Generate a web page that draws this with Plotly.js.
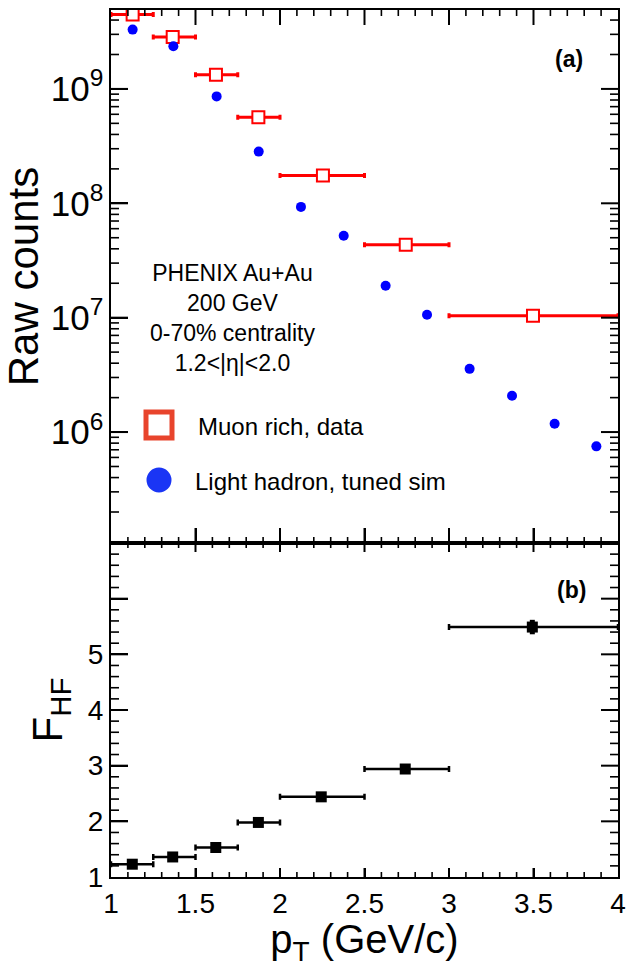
<!DOCTYPE html>
<html>
<head>
<meta charset="utf-8">
<script src="https://cdn.plot.ly/plotly-3.0.1.min.js"></script>
<style>html,body{margin:0;padding:0;background:#fff;}#chart{width:626px;height:967px;}</style>
</head>
<body>
<div id="chart"></div>
<script>
// ---- data ----
const ptSim = [1.128, 1.369, 1.625, 1.874, 2.124, 2.377, 2.625, 2.870, 3.122, 3.373, 3.625, 3.872];
const simCounts = [3.3e9, 2.36e9, 8.6e8, 2.83e8, 9.3e7, 5.2e7, 1.9e7, 1.06e7, 3.57e6, 2.08e6, 1.18e6, 7.5e5];

const ptData = [1.128, 1.365, 1.621, 1.872, 2.254, 2.744, 3.497];
const dataCounts = [4.47e9, 2.85e9, 1.33e9, 5.65e8, 1.75e8, 4.35e7, 1.04e7];
const binLo = [1.00, 1.25, 1.50, 1.75, 2.00, 2.50, 3.00];
const binHi = [1.25, 1.50, 1.75, 2.00, 2.50, 3.00, 4.00];

const ptFhf = [1.126, 1.365, 1.620, 1.872, 2.244, 2.741, 3.493];
const fhf = [1.23, 1.36, 1.53, 1.98, 2.44, 2.94, 5.49];
const fhfErr = [0, 0, 0, 0, 0, 0, 0.13];

const xTickVals = [1, 1.5, 2, 2.5, 3, 3.5, 4];
const xTickText = ['1', '1.5', '2', '2.5', '3', '3.5', '4'];
const fTickVals = [1, 2, 3, 4, 5, 6];
const fTickText = ['1', '2', '3', '4', '5', ' '];

const legendLabels = ['Muon rich, data', 'Light hadron, tuned sim'];
const infoLines = ['PHENIX Au+Au', '200 GeV', '0-70% centrality', '1.2<|η|<2.0'];

// ---- layout helpers ----
const W = 626, H = 967, ML = 111, MR = 8, MT = 10, MB = 90;
const PW = W - ML - MR, PH = H - MT - MB;
const px = x => (x - ML) / PW;
const py = y => (H - MB - y) / PH;
const split = py(543);
const FONT = 'Liberation Sans, Arial, Helvetica, sans-serif';
const XRANGE = [1, 4];
const Y2RANGE = [5.03, 9.69];
const FRANGE = [1, 7];

const errLo = ptData.map((v, i) => v - binLo[i]);
const errHi = ptData.map((v, i) => binHi[i] - v);
const errLoF = ptFhf.map((v, i) => v - binLo[i]);
const errHiF = ptFhf.map((v, i) => binHi[i] - v);

// ---- tick marks as paper-referenced line shapes (axis decoration) ----
const tickShapes = [];
const xPaper = v => (v - XRANGE[0]) / (XRANGE[1] - XRANGE[0]);
const fPaper = v => (v - FRANGE[0]) / (FRANGE[1] - FRANGE[0]) * split;
const cPaper = v => split + (Math.log10(v) - Y2RANGE[0]) / (Y2RANGE[1] - Y2RANGE[0]) * (1 - split);
function vTicks(vals, yBottom, yTop, len, w) {
  const d = len / PH;
  vals.forEach(v => {
    const x = xPaper(v);
    tickShapes.push({type: 'line', xref: 'paper', yref: 'paper', x0: x, x1: x, y0: yBottom, y1: yBottom + d, line: {color: '#000', width: w}});
    tickShapes.push({type: 'line', xref: 'paper', yref: 'paper', x0: x, x1: x, y0: yTop, y1: yTop - d, line: {color: '#000', width: w}});
  });
}
function hTicks(yvals, len, w) {
  const d = len / PW;
  yvals.forEach(y => {
    tickShapes.push({type: 'line', xref: 'paper', yref: 'paper', x0: 0, x1: d, y0: y, y1: y, line: {color: '#000', width: w}});
    tickShapes.push({type: 'line', xref: 'paper', yref: 'paper', x0: 1, x1: 1 - d, y0: y, y1: y, line: {color: '#000', width: w}});
  });
}
const xMajorInner = xTickVals.slice(1, -1);
const xMinor = [];
for (let i = 11; i < 40; i++) if (i % 5 !== 0) xMinor.push(i / 10);
// top panel x ticks
vTicks(xMajorInner, split, 1, 15, 2);
vTicks(xMinor, split, 1, 6, 1.6);
// bottom panel x ticks
vTicks(xMajorInner, 0, split, 9, 2);
vTicks(xMinor, 0, split, 5, 1.6);
// bottom panel y ticks
const fMinor = [];
for (let i = 6; i < 35; i++) if (i % 5 !== 0) fMinor.push(i / 5);
hTicks(fTickVals.slice(1).map(fPaper), 17, 2);
hTicks(fMinor.map(fPaper), 8, 1.6);
// top panel y ticks (log)
const cMajor = [], cMinor = [];
for (let d = 5; d <= 9; d++) {
  const dec = Math.pow(10, d);
  if (Math.log10(dec) > Y2RANGE[0]) cMajor.push(cPaper(dec));
  for (let k = 2; k <= 9; k++) {
    const lv = Math.log10(k * dec);
    if (lv > Y2RANGE[0] && lv < Y2RANGE[1]) cMinor.push(cPaper(k * dec));
  }
}
hTicks(cMajor, 17, 2);
hTicks(cMinor, 8, 1.6);

const traces = [
  {
    x: ptData, y: dataCounts, xaxis: 'x2', yaxis: 'y2', type: 'scatter', mode: 'markers',
    name: legendLabels[0], showlegend: false,
    marker: {symbol: 'square', size: 12, color: '#ffffff', line: {color: '#ff0000', width: 2}},
    error_x: {type: 'data', symmetric: false, array: errHi, arrayminus: errLo, color: '#ff0000', thickness: 3, width: 2.5}
  },
  {
    x: ptSim, y: simCounts, xaxis: 'x2', yaxis: 'y2', type: 'scatter', mode: 'markers',
    name: legendLabels[1], showlegend: false,
    marker: {symbol: 'circle', size: 10, color: '#0000ff'}
  },
  {
    x: ptFhf, y: fhf, xaxis: 'x', yaxis: 'y', type: 'scatter', mode: 'markers',
    name: 'F_HF', showlegend: false,
    marker: {symbol: 'square', size: 11, color: '#000000'},
    error_x: {type: 'data', symmetric: false, array: errHiF, arrayminus: errLoF, color: '#000000', thickness: 2.5, width: 3},
    error_y: {type: 'data', array: fhfErr, color: '#000000', thickness: 5, width: 0}
  }
];

const axCommon = {
  showline: true, linecolor: '#000', linewidth: 2, mirror: true, ticks: 'inside',
  tickcolor: '#000', tickwidth: 2, showgrid: false, zeroline: false,
  tickfont: {family: FONT, size: 28, color: '#000'}
};

const layout = {
  width: W, height: H,
  margin: {l: ML, r: MR, t: MT, b: MB},
  paper_bgcolor: '#fff', plot_bgcolor: '#fff',
  showlegend: false,
  xaxis: Object.assign({}, axCommon, {
    domain: [0, 1], anchor: 'y', range: XRANGE,
    tickmode: 'array', tickvals: xTickVals, ticktext: xTickText, ticklen: 9,
    title: {text: 'p<sub>T</sub> (GeV/c)', font: {family: FONT, size: 40, color: '#000'}, standoff: 6}
  }),
  yaxis: Object.assign({}, axCommon, {
    domain: [0, split], anchor: 'x', range: FRANGE,
    tickmode: 'array', tickvals: fTickVals, ticktext: fTickText, ticklen: 17,
    title: {text: 'F<sub>HF</sub>', font: {family: FONT, size: 42, color: '#000'}, standoff: 12}
  }),
  xaxis2: Object.assign({}, axCommon, {
    domain: [0, 1], anchor: 'y2', range: XRANGE, matches: 'x',
    tickmode: 'array', tickvals: xTickVals, showticklabels: false, ticklen: 15
  }),
  yaxis2: Object.assign({}, axCommon, {
    domain: [split, 1], anchor: 'x2', type: 'log', range: Y2RANGE,
    dtick: 1, exponentformat: 'power', showexponent: 'all', ticklen: 17,
    title: {text: 'Raw counts', font: {family: FONT, size: 42, color: '#000'}, standoff: 18}
  }),
  shapes: [
    {type: 'rect', xref: 'paper', yref: 'paper', x0: px(146), x1: px(172), y0: py(438), y1: py(412),
     line: {color: '#e8442c', width: 5}, fillcolor: '#ffffff'},
    {type: 'circle', xref: 'paper', yref: 'paper', x0: px(146.5), x1: px(171.5), y0: py(492.5), y1: py(467.5),
     line: {width: 0}, fillcolor: '#1a35f5'}
  ].concat(tickShapes),
  annotations: [
    {xref: 'paper', yref: 'paper', x: px(232), y: py(318), xanchor: 'center', yanchor: 'middle',
     text: infoLines.join('<br>'), align: 'center', showarrow: false,
     font: {family: FONT, size: 23, color: '#000'}},
    {xref: 'paper', yref: 'paper', x: px(196), y: py(426), xanchor: 'left', yanchor: 'middle',
     text: legendLabels[0], showarrow: false, font: {family: FONT, size: 24, color: '#000'}},
    {xref: 'paper', yref: 'paper', x: px(193), y: py(481), xanchor: 'left', yanchor: 'middle',
     text: legendLabels[1], showarrow: false, font: {family: FONT, size: 24, color: '#000'}},
    {xref: 'paper', yref: 'paper', x: px(569), y: py(59), xanchor: 'center', yanchor: 'middle',
     text: '<b>(a)</b>', showarrow: false, font: {family: FONT, size: 23, color: '#000'}},
    {xref: 'paper', yref: 'paper', x: px(571), y: py(590), xanchor: 'center', yanchor: 'middle',
     text: '<b>(b)</b>', showarrow: false, font: {family: FONT, size: 23, color: '#000'}}
  ]
};

Plotly.newPlot('chart', traces, layout, {staticPlot: true});
</script>
</body>
</html>
